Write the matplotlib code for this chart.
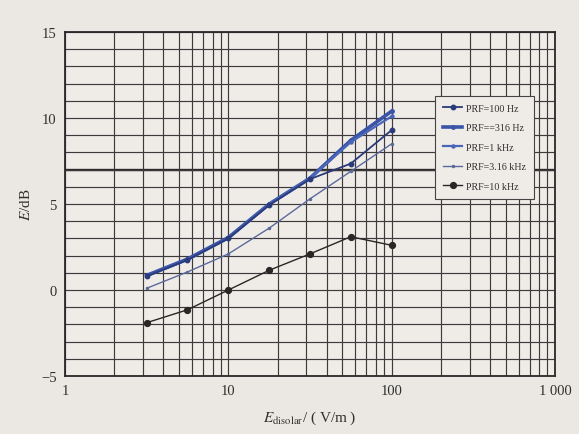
import matplotlib
matplotlib.use("Agg")
import matplotlib.pyplot as plt
from matplotlib.ticker import LogLocator, MultipleLocator, FixedLocator, NullFormatter

# Data
x_field = [3.16, 5.62, 10, 17.8, 31.6, 56.2, 100]
prf_100 = [0.8, 1.75, 3.0, 4.95, 6.45, 7.35, 9.3]
prf_316 = [0.85, 1.8, 3.05, 5.0, 6.5, 8.7, 10.4]
prf_1k = [0.8, 1.75, 3.0, 5.0, 6.5, 8.6, 10.1]
prf_3k16 = [0.1, 1.05, 2.1, 3.6, 5.3, 6.9, 8.5]
prf_10k = [-1.9, -1.15, 0.0, 1.15, 2.1, 3.1, 2.6]
labels = ["PRF=100 Hz", "PRF==316 Hz", "PRF=1 kHz", "PRF=3.16 kHz", "PRF=10 kHz"]
x_ticks = [1, 10, 100, 1000]
x_ticklabels = ["1", "10", "100", "1 000"]
y_ticks = [-5, 0, 5, 10, 15]

bg = "#ebe8e4"
ink = "#2f2f2f"
plt.rcParams["font.family"] = ["Liberation Serif", "DejaVu Serif"]
plt.rcParams["mathtext.fontset"] = "stix"

fig = plt.figure(figsize=(5.79, 4.35), dpi=100, facecolor=bg)
ax = fig.add_axes([0.1123, 0.1333, 0.8462, 0.7907], facecolor="#efece8")

ax.set_xscale("log")
ax.set_xlim(1, 1000)
ax.set_ylim(-5, 15)

ax.xaxis.set_major_locator(FixedLocator(x_ticks))
ax.set_xticklabels(x_ticklabels)
ax.xaxis.set_minor_locator(LogLocator(base=10, subs=range(2, 10)))
ax.xaxis.set_minor_formatter(NullFormatter())
ax.yaxis.set_major_locator(FixedLocator(y_ticks))
ax.yaxis.set_minor_locator(MultipleLocator(1))

ax.grid(which="both", axis="both", color="#3c3a3a", lw=0.85)
ax.axhline(7, color="#2a2828", lw=1.7, zorder=1)
ax.tick_params(which="both", length=0, labelsize=10.5, colors=ink, pad=6)
for s in ax.spines.values():
    s.set_color("#2a2828")
    s.set_linewidth(1.3)

l1, = ax.plot(x_field, prf_100, color="#2a3a7a", lw=1.3, marker="o", ms=3.2, label=labels[0], zorder=4)
l2, = ax.plot(x_field, prf_316, color="#3a55a8", lw=2.6, marker="o", ms=2.5, label=labels[1], zorder=3)
l3, = ax.plot(x_field, prf_1k, color="#4a66b8", lw=1.6, marker="o", ms=2.2, label=labels[2], zorder=3)
l4, = ax.plot(x_field, prf_3k16, color="#5a6a9a", lw=1.0, marker="o", ms=1.5, label=labels[3], zorder=3)
l5, = ax.plot(x_field, prf_10k, color="#2a2626", lw=1.0, marker="o", ms=4.2, label=labels[4], zorder=4)

leg = ax.legend(handles=[l1, l2, l3, l4, l5], loc="upper left", bbox_to_anchor=(0.745, 0.83),
                fontsize=7.2, frameon=True, fancybox=False, edgecolor="#444444",
                facecolor="#efece8", framealpha=1, labelspacing=1.05, handlelength=1.9,
                borderpad=0.8, handletextpad=0.35)
leg.get_frame().set_linewidth(0.8)
for t in leg.get_texts():
    t.set_color(ink)

ax.set_ylabel("$E$/dB", fontsize=11, color=ink, labelpad=6)
ax.set_xlabel(r"$E_{\rm disolar}$/ ( V/m )", fontsize=11, color=ink, labelpad=8)

fig.savefig("out.png", dpi=100, facecolor=bg)
